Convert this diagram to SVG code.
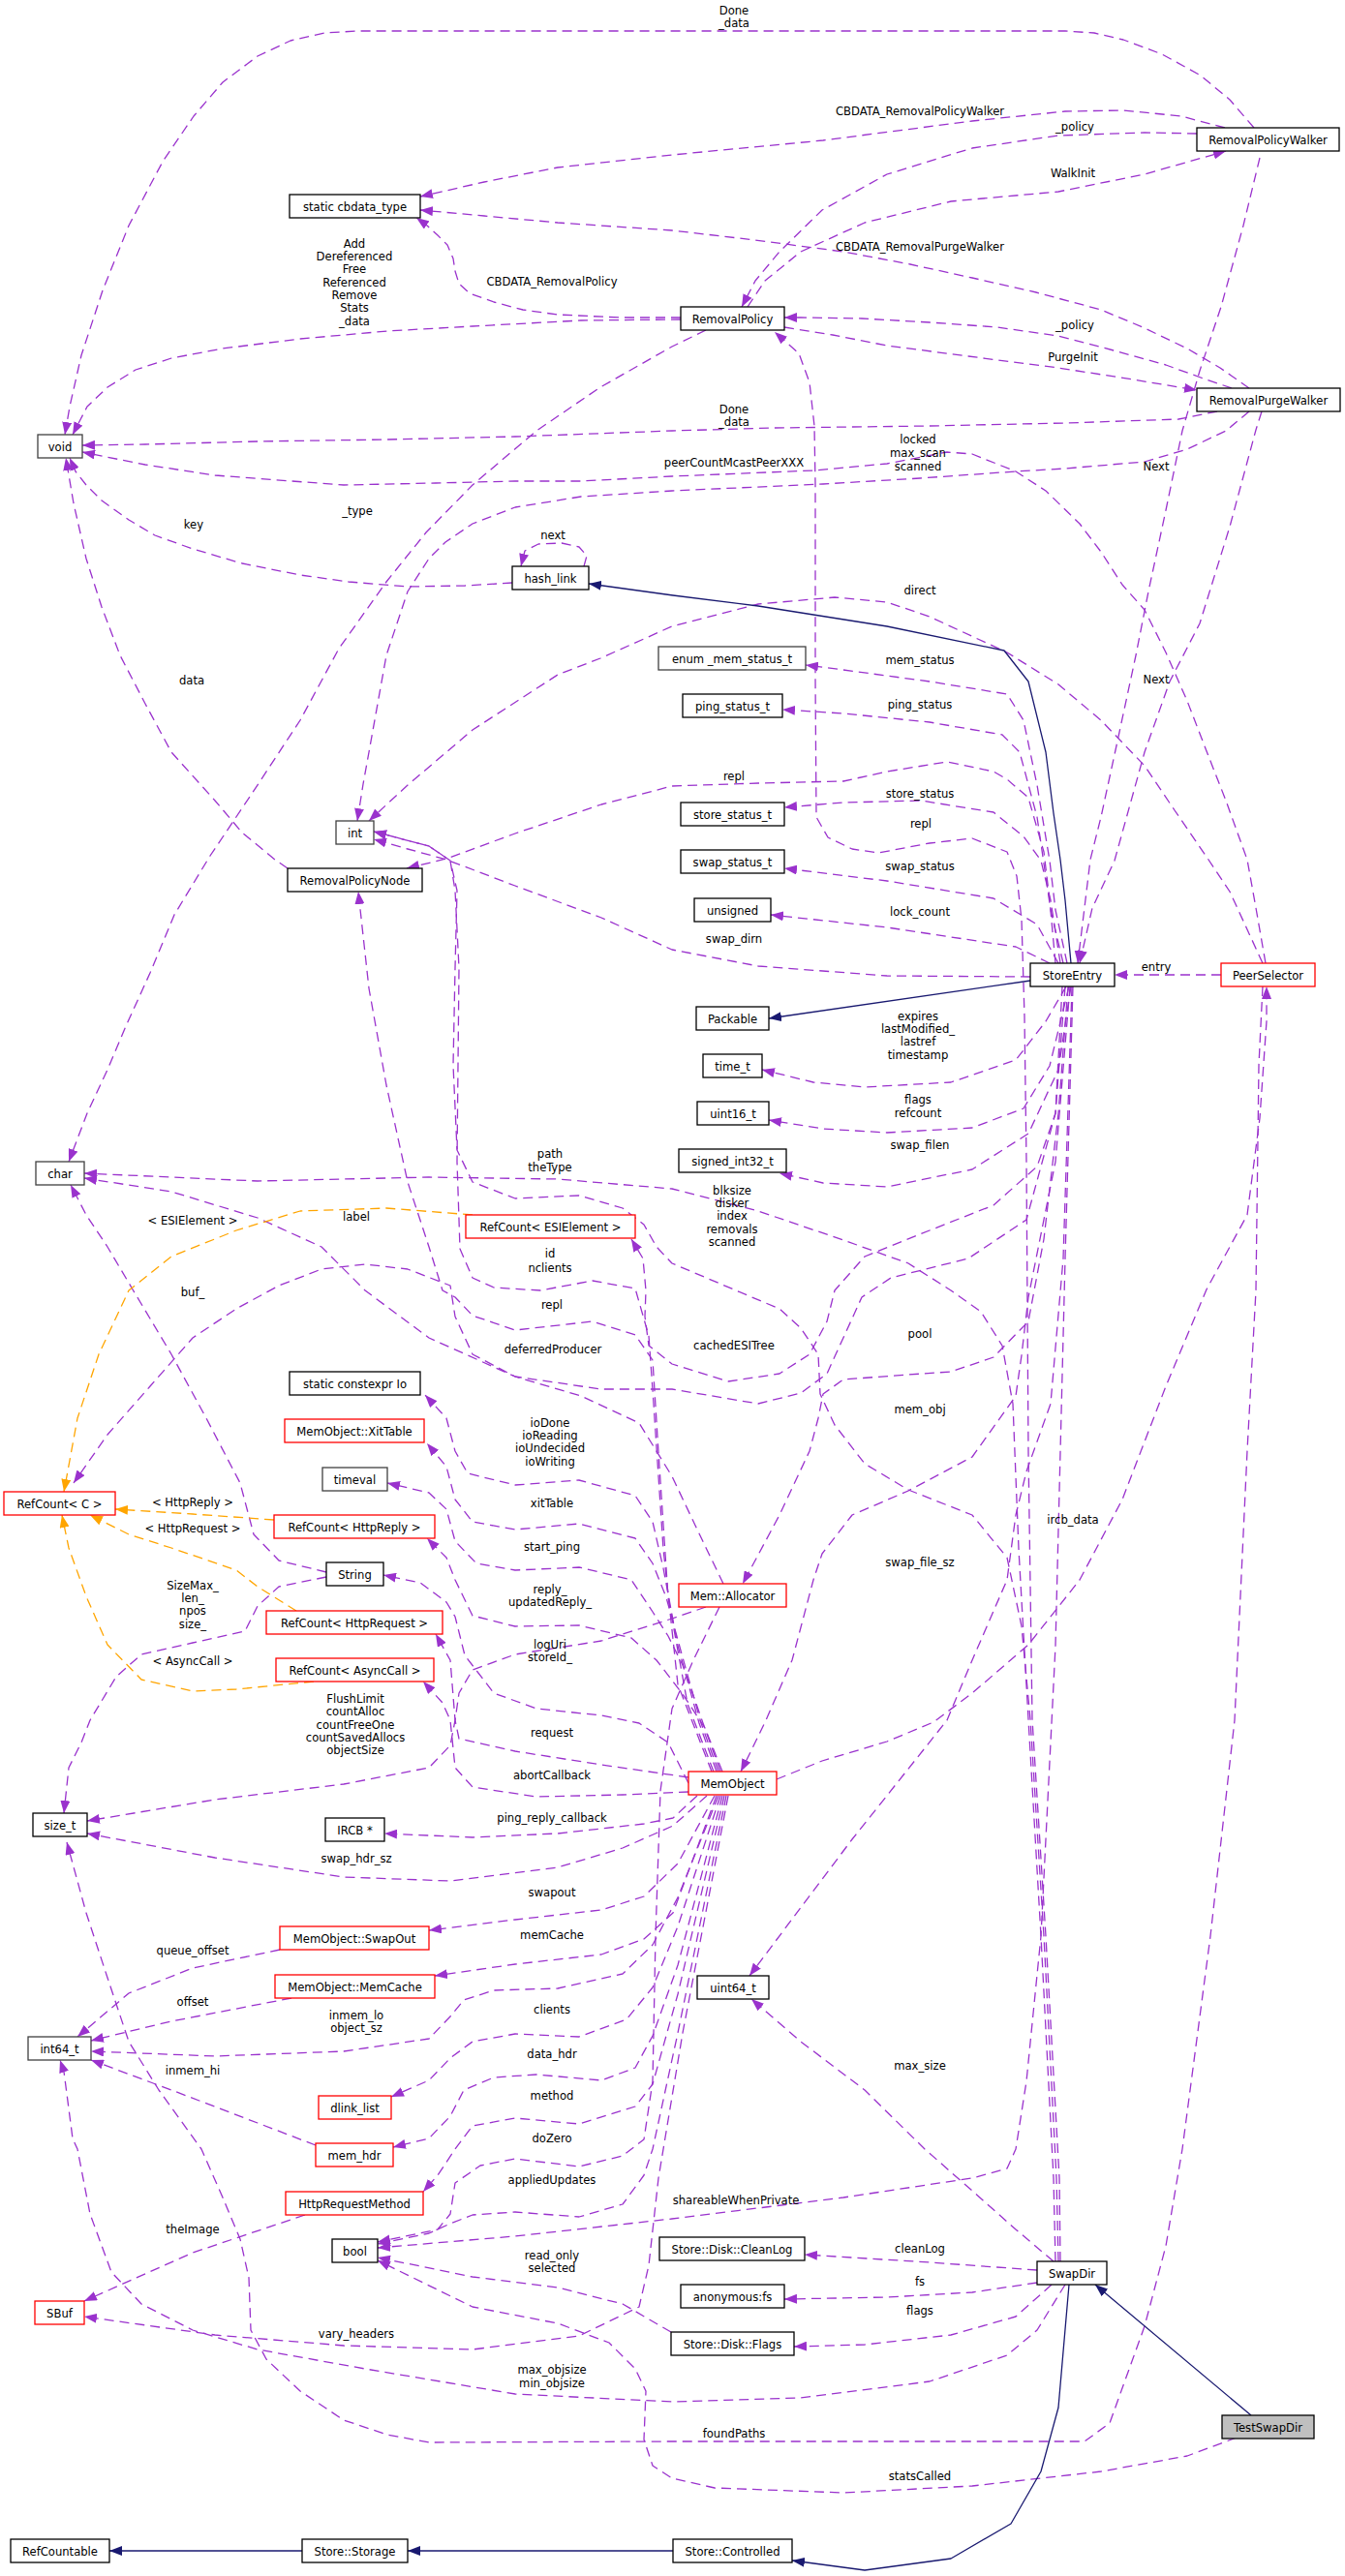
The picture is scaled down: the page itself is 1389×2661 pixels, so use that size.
<svg xmlns="http://www.w3.org/2000/svg" width="1389" height="2661" viewBox="0 0 1389 2661">
<defs>
<style>
text{font-family:'DejaVu Sans Condensed','Liberation Sans',sans-serif;font-size:12.9px;fill:#000;text-anchor:middle}
.nd rect{fill:#fff;stroke:#000;stroke-width:1.3}
.gy rect{stroke:#404040}
.rd rect{stroke:#ff0000}
.ts rect{fill:#bfbfbf}
.p{fill:none;stroke:#9a32cd;stroke-width:1.3;stroke-dasharray:10,6;stroke-linejoin:round;marker-end:url(#ap)}
.o{fill:none;stroke:#ffa500;stroke-width:1.3;stroke-dasharray:10,6;stroke-linejoin:round;marker-end:url(#ao)}
.b{fill:none;stroke:#191970;stroke-width:1.3;stroke-linejoin:round;marker-end:url(#an)}
</style>
<marker id="ap" markerUnits="userSpaceOnUse" markerWidth="13" markerHeight="10" refX="13" refY="5" orient="auto"><path d="M0,0 L13,5 L0,10 z" fill="#9a32cd"/></marker>
<marker id="ao" markerUnits="userSpaceOnUse" markerWidth="13" markerHeight="10" refX="13" refY="5" orient="auto"><path d="M0,0 L13,5 L0,10 z" fill="#ffa500"/></marker>
<marker id="an" markerUnits="userSpaceOnUse" markerWidth="13" markerHeight="10" refX="13" refY="5" orient="auto"><path d="M0,0 L13,5 L0,10 z" fill="#191970"/></marker>
</defs>
<rect width="1389" height="2661" fill="#fff"/>
<g id="edges">
<path class="p" d="M1295,132 L1270,103 L1240,78 L1200,56 L1160,41 L1130,34 L1100,32 L370,32 L335,34 L300,42 L266,58 L230,85 L200,120 L168,167 L133,233 L106,300 L84,367 L72,420 L67,449"/>
<path class="p" d="M1265,132 L1220,120 L1160,114 L1100,115 L1004,125 L850,145 L694,160 L576,173 L500,188 L434,203"/>
<path class="p" d="M1236,138 L1182,137 L1093,140 L1004,153 L916,180 L849,217 L805,260 L780,290 L766,317"/>
<path class="p" d="M772,317 L790,290 L827,260 L893,230 L982,208 L1093,198 L1182,180 L1266,156"/>
<path class="p" d="M703,330 L600,331 L488,337 L400,342 L310,350 L230,360 L177,370 L140,382 L111,400 L90,420 L75,449"/>
<path class="p" d="M703,328 L640,328 L576,325 L540,320 L510,312 L485,303 L474,293 L470,280 L468,267 L462,253 L452,243 L440,232 L430,225"/>
<path class="p" d="M729,341 L694,358 L620,400 L554,445 L488,501 L440,550 L399,601 L350,670 L310,744 L260,820 L217,884 L180,945 L155,1005 L130,1060 L111,1105 L90,1150 L71,1200"/>
<path class="p" d="M1290,401 L1260,380 L1226,360 L1180,338 L1137,320 L1070,302 L1004,287 L940,273 L871,260 L780,248 L694,238 L576,230 L500,223 L434,217"/>
<path class="p" d="M1272,401 L1240,390 L1204,377 L1150,362 L1093,347 L1030,338 L960,333 L890,329 L827,328 L810,328"/>
<path class="p" d="M810,338 L860,346 L916,357 L1000,368 L1093,380 L1170,392 L1236,403"/>
<path class="p" d="M1257,425 L1217,433 L1100,437 L960,440 L800,442 L694,445 L532,451 L400,454 L266,456 L150,459 L85,460"/>
<path class="p" d="M1307,995 L1297,938 L1288,888 L1266,827 L1248,781 L1226,724 L1204,674 L1182,630 L1159,604 L1137,570 L1115,541 L1080,507 L1049,487 L1004,469 L978,467 L916,479 L840,486 L694,492 L600,497 L532,497 L450,499 L355,501 L222,491 L150,480 L85,467"/>
<path class="p" d="M1290,425 L1266,445 L1226,464 L1182,477 L1100,484 L1049,487 L950,494 L850,500 L694,507 L600,513 L532,524 L488,541 L460,560 L443,577 L421,611 L399,677 L381,777 L375,810 L369,848"/>
<path class="p" d="M1301,163 L1284,233 L1261,317 L1239,383 L1221,445 L1204,527 L1186,611 L1173,677 L1155,761 L1137,844 L1126,888 L1113,995"/>
<path class="p" d="M1303,425 L1297,444 L1270,544 L1239,644 L1208,704 L1182,777 L1151,889 L1128,938 L1115,995"/>
<path class="p" d="M529,602 L480,605 L421,606 L360,601 L310,594 L250,582 L199,567 L160,553 L133,537 L105,517 L89,501 L78,487 L72,473"/>
<path class="p" d="M603,585 L606,574 L598,565 L580,561 L556,562 L542,569 L538,585"/>
<path class="p" d="M297,897 L284,888 L250,860 L222,827 L177,777 L150,727 L124,677 L105,627 L89,577 L76,520 L68,473"/>
<path class="p" d="M1304,995 L1270,921 L1248,888 L1213,837 L1182,791 L1137,744 L1093,707 L1040,674 L960,637 L916,622 L862,617 L783,624 L694,647 L620,680 L576,697 L488,754 L421,811 L381,848"/>
<path class="p" d="M1090,995 L1084,930 L1078,880 L1062,824 L1040,805 L1026,797 L978,787 L916,797 L871,807 L783,809 L694,812 L621,831 L532,861 L461,887 L420,897"/>
<path class="p" d="M1095,2336 L1094,2250 L1080,2000 L1066,1776 L1062,1500 L1060,1200 L1058,1050 L1055,950 L1050,905 L1040,880 L1004,866 L960,871 L907,881 L880,877 L855,865 L843,844 L842,700 L842,500 L841,440 L836,395 L825,365 L800,343"/>
<path class="p" d="M1102,995 L1090,940 L1084,889 L1071,811 L1057,744 L1040,717 L960,704 L871,692 L832,687"/>
<path class="p" d="M1098,995 L1085,940 L1071,844 L1053,777 L1035,759 L960,746 L871,737 L808,733"/>
<path class="p" d="M1095,995 L1085,930 L1075,889 L1057,864 L1026,839 L951,827 L871,829 L810,834"/>
<path class="p" d="M1093,995 L1071,955 L1026,928 L916,910 L810,897"/>
<path class="p" d="M1084,995 L1049,978 L916,958 L796,945"/>
<path class="p" d="M1064,1009 L916,1008 L783,998 L694,981 L621,948 L532,915 L461,888 L421,877 L386,867"/>
<path class="p" d="M1101,1019 L1080,1055 L1049,1095 L982,1118 L893,1123 L840,1118 L787,1105"/>
<path class="p" d="M1104,1019 L1084,1101 L1057,1145 L1004,1165 L916,1170 L850,1166 L794,1157"/>
<path class="p" d="M1106,1019 L1093,1105 L1062,1171 L1004,1208 L916,1226 L850,1222 L805,1212"/>
<path class="p" d="M1261,1007 L1151,1007"/>
<path class="p" d="M1100,1019 L1090,1150 L1071,1205 L1026,1245 L960,1271 L893,1298 L862,1333 L854,1365 L836,1399 L805,1419 L752,1427 L694,1409 L670,1390 L666,1360 L667,1333 L664,1300 L652,1280"/>
<path class="p" d="M1103,1019 L1093,1150 L1078,1280 L1062,1365 L1026,1402 L982,1417 L938,1420 L871,1425 L850,1440 L845,1465 L836,1499 L805,1565 L767,1636"/>
<path class="p" d="M1105,1019 L1090,1200 L1070,1300 L1062,1340 L1055,1400 L1049,1442 L1004,1505 L938,1540 L880,1565 L849,1605 L840,1632 L818,1715 L791,1777 L775,1810 L765,1830"/>
<path class="p" d="M1107,1019 L1098,1300 L1085,1450 L1060,1520 L1049,1565 L1040,1632 L1004,1715 L978,1777 L880,1900 L774,2041"/>
<path class="p" d="M1108,1019 L1100,1300 L1090,1700 L1075,2000 L1060,2150 L1049,2220 L1040,2240 L1004,2250 L871,2270 L694,2292 L532,2310 L390,2322"/>
<path class="p" d="M1097,1019 L1090,1150 L1060,1260 L1000,1300 L920,1320 L890,1340 L880,1362 L854,1419 L827,1439 L783,1450 L694,1435 L621,1435 L532,1422 L488,1399 L470,1360 L465,1328 L421,1311 L377,1306 L332,1311 L288,1328 L244,1352 L199,1382 L155,1432 L111,1482 L76,1532"/>
<path class="p" d="M802,1838 L849,1819 L916,1799 L964,1779 L1004,1749 L1062,1699 L1115,1632 L1159,1549 L1204,1432 L1246,1332 L1288,1255 L1301,1155 L1308,1055 L1308,1019"/>
<path class="p" d="M1304,1019 L1300,1100 L1297,1333 L1288,1499 L1275,1777 L1250,2000 L1221,2220 L1204,2320 L1182,2403 L1146,2503 L1120,2522 L694,2522 L443,2523 L400,2515 L355,2500 L310,2470 L275,2437 L259,2407 L257,2353 L248,2313 L230,2270 L208,2220 L164,2159 L133,2109 L111,2043 L89,1976 L69,1903"/>
<path class="p" d="M1088,2336 L1049,2303 L1004,2263 L955,2220 L893,2159 L827,2109 L776,2065"/>
<path class="p" d="M1090,2336 L1088,2250 L1075,2000 L1062,1776 L1052,1600 L1046,1450 L1035,1390 L1013,1355 L982,1333 L938,1305 L871,1281 L783,1251 L694,1228 L576,1218 L443,1216 L266,1220 L87,1212"/>
<path class="p" d="M1093,2336 L1091,2250 L1078,2000 L1064,1776 L1055,1680 L1040,1609 L1004,1565 L938,1539 L893,1512 L862,1472 L847,1440 L845,1399 L827,1372 L805,1352 L760,1333 L694,1305 L678,1288 L665,1265 L643,1248 L598,1235 L532,1238 L488,1221 L472,1188 L468,1100 L470,1000 L472,920 L465,889 L443,874 L386,859"/>
<path class="p" d="M1071,2345 L960,2337 L831,2329"/>
<path class="p" d="M1071,2358 L1004,2368 L916,2373 L810,2375"/>
<path class="p" d="M1086,2360 L1049,2393 L982,2412 L893,2422 L820,2424"/>
<path class="p" d="M1100,2360 L1071,2407 L1040,2433 L960,2460 L827,2477 L694,2481 L532,2473 L377,2447 L266,2427 L199,2407 L146,2380 L115,2347 L93,2287 L80,2220 L75,2209 L66,2140 L62,2128"/>
<path class="p" d="M1277,2518 L1226,2537 L1137,2553 L1004,2568 L871,2575 L738,2570 L694,2560 L674,2547 L665,2520 L667,2470 L656,2447 L629,2420 L576,2400 L488,2383 L390,2335"/>
<path class="p" d="M693,2409 L643,2380 L576,2363 L488,2352 L390,2332"/>
<path class="p" d="M315,2288 L199,2327 L87,2377"/>
<path class="p" d="M740,1830 L722,1780 L700,1700 L685,1620 L674,1572 L656,1545 L598,1529 L532,1534 L483,1522 L470,1499 L461,1465 L439,1441"/>
<path class="p" d="M742,1830 L724,1780 L703,1705 L688,1650 L674,1615 L656,1589 L598,1574 L532,1580 L488,1572 L470,1549 L461,1515 L441,1491"/>
<path class="p" d="M744,1830 L726,1780 L705,1720 L690,1690 L674,1665 L652,1632 L598,1619 L532,1622 L492,1615 L470,1592 L461,1559 L443,1542 L400,1532"/>
<path class="p" d="M746,1830 L728,1785 L705,1750 L678,1715 L652,1692 L598,1679 L532,1680 L488,1669 L470,1632 L461,1609 L441,1589"/>
<path class="p" d="M711,1842 L690,1800 L660,1780 L621,1772 L554,1765 L510,1749 L480,1710 L470,1670 L461,1655 L434,1635 L396,1627"/>
<path class="p" d="M711,1836 L621,1823 L532,1809 L474,1796 L470,1777 L465,1715 L450,1688"/>
<path class="p" d="M711,1851 L643,1854 L554,1856 L488,1846 L470,1826 L465,1777 L457,1759 L437,1737"/>
<path class="p" d="M720,1855 L695,1878 L665,1884 L576,1894 L488,1898 L397,1894"/>
<path class="p" d="M730,1855 L695,1886 L643,1909 L576,1929 L465,1943 L355,1939 L222,1919 L90,1894"/>
<path class="p" d="M738,1855 L700,1925 L665,1959 L621,1973 L532,1983 L443,1994"/>
<path class="p" d="M740,1855 L695,1976 L665,2003 L621,2019 L532,2029 L449,2041"/>
<path class="p" d="M742,1855 L700,1960 L674,2009 L643,2039 L576,2054 L510,2056 L479,2066 L465,2083 L443,2106 L355,2119 L222,2124 L94,2119"/>
<path class="p" d="M744,1855 L700,1990 L674,2053 L647,2086 L598,2104 L532,2101 L488,2109 L465,2126 L443,2149 L404,2166"/>
<path class="p" d="M746,1855 L700,2030 L674,2103 L656,2136 L621,2149 L554,2143 L510,2146 L479,2159 L465,2186 L443,2209 L406,2218"/>
<path class="p" d="M748,1855 L700,2060 L674,2153 L656,2176 L598,2194 L532,2188 L488,2196 L470,2220 L452,2247 L437,2264"/>
<path class="p" d="M750,1855 L700,2100 L674,2220 L665,2247 L643,2277 L598,2290 L532,2285 L488,2288 L465,2297 L443,2307 L390,2318"/>
<path class="p" d="M752,1855 L705,2100 L680,2250 L670,2340 L660,2383 L598,2413 L488,2427 L355,2423 L222,2412 L87,2393"/>
<path class="p" d="M735,1830 L700,1740 L685,1600 L675,1450 L670,1380 L656,1331 L612,1323 L558,1333 L510,1330 L488,1320 L475,1290 L472,1200 L474,1000 L470,920 L465,889 L443,874 L386,859"/>
<path class="p" d="M737,1830 L710,1760 L690,1650 L680,1500 L674,1405 L656,1379 L612,1365 L532,1374 L488,1359 L470,1340 L457,1333 L443,1288 L421,1221 L399,1121 L381,1021 L370,921"/>
<path class="p" d="M747,1636 L720,1580 L694,1525 L660,1470 L600,1442 L532,1422 L443,1382 L377,1333 L332,1288 L266,1258 L177,1231 L87,1217"/>
<path class="p" d="M729,1660 L694,1672 L621,1695 L532,1709 L488,1725 L474,1749 L470,1777 L465,1803 L443,1826 L355,1843 L222,1859 L90,1881"/>
<path class="p" d="M743,1660 L716,1715 L694,1765 L682,1850 L677,2000 L674,2150 L665,2210 L643,2227 L598,2238 L532,2230 L496,2237 L470,2255 L465,2287 L452,2303 L390,2316"/>
<path class="p" d="M337,1629 L288,1639 L266,1659 L253,1685 L199,1697 L146,1709 L120,1732 L93,1777 L84,1800 L71,1826 L66,1873"/>
<path class="p" d="M337,1624 L288,1612 L262,1585 L248,1532 L213,1465 L177,1399 L137,1332 L111,1288 L89,1255 L73,1224"/>
<path class="p" d="M289,2014 L199,2033 L133,2059 L80,2104"/>
<path class="p" d="M301,2064 L177,2088 L94,2108"/>
<path class="p" d="M326,2216 L266,2193 L177,2159 L94,2128"/>
<path class="o" d="M488,1255 L399,1248 L310,1251 L244,1271 L177,1298 L133,1333 L102,1399 L80,1465 L66,1541"/>
<path class="o" d="M283,1570 L199,1564 L119,1559"/>
<path class="o" d="M306,1664 L266,1639 L244,1622 L177,1599 L133,1585 L93,1565"/>
<path class="o" d="M324,1737 L244,1745 L199,1747 L146,1735 L111,1699 L89,1649 L71,1599 L64,1565"/>
<path class="b" d="M1106,995 L1100,930 L1095,888 L1088,840 L1080,777 L1062,704 L1037,672 L916,647 L783,626 L695,615 L608,603"/>
<path class="b" d="M1064,1013 L794,1052"/>
<path class="b" d="M1292,2495 L1131,2360"/>
<path class="b" d="M1104,2360 L1093,2487 L1075,2553 L1044,2607 L982,2643 L893,2655 L818,2645"/>
<path class="b" d="M695,2635 L421,2635"/>
<path class="b" d="M312,2635 L113,2635"/>
</g>
<g id="edge-labels">
<text x="758" y="15">Done</text><text x="758" y="28">_data</text>
<text x="950" y="119">CBDATA_RemovalPolicyWalker</text>
<text x="1110" y="135">_policy</text>
<text x="1108" y="183">WalkInit</text>
<text x="366" y="256">Add</text><text x="366" y="269">Dereferenced</text><text x="366" y="282">Free</text><text x="366" y="296">Referenced</text><text x="366" y="309">Remove</text><text x="366" y="322">Stats</text><text x="366" y="336">_data</text>
<text x="570" y="295">CBDATA_RemovalPolicy</text>
<text x="950" y="259">CBDATA_RemovalPurgeWalker</text>
<text x="1110" y="340">_policy</text>
<text x="1108" y="373">PurgeInit</text>
<text x="758" y="427">Done</text><text x="758" y="440">_data</text>
<text x="369" y="532">_type</text>
<text x="200" y="546">key</text>
<text x="571" y="557">next</text>
<text x="948" y="458">locked</text><text x="948" y="472">max_scan</text><text x="948" y="486">scanned</text>
<text x="758" y="482">peerCountMcastPeerXXX</text>
<text x="1194" y="486">Next</text>
<text x="950" y="614">direct</text>
<text x="1194" y="706">Next</text>
<text x="950" y="686">mem_status</text>
<text x="950" y="732">ping_status</text>
<text x="198" y="707">data</text>
<text x="758" y="806">repl</text>
<text x="950" y="824">store_status</text>
<text x="951" y="855">repl</text>
<text x="950" y="899">swap_status</text>
<text x="950" y="946">lock_count</text>
<text x="758" y="974">swap_dirn</text>
<text x="1194" y="1003">entry</text>
<text x="948" y="1054">expires</text><text x="948" y="1067">lastModified_</text><text x="948" y="1080">lastref</text><text x="948" y="1094">timestamp</text>
<text x="948" y="1140">flags</text><text x="948" y="1154">refcount</text>
<text x="950" y="1187">swap_filen</text>
<text x="568" y="1196">path</text><text x="568" y="1210">theType</text>
<text x="756" y="1234">blksize</text><text x="756" y="1247">disker</text><text x="756" y="1260">index</text><text x="756" y="1274">removals</text><text x="756" y="1287">scanned</text>
<text x="368" y="1261">label</text>
<text x="199" y="1265">&lt; ESIElement &gt;</text>
<text x="568" y="1299">id</text><text x="568" y="1314">nclients</text>
<text x="199" y="1339">buf_</text>
<text x="570" y="1352">repl</text>
<text x="950" y="1382">pool</text>
<text x="758" y="1394">cachedESITree</text>
<text x="571" y="1398">deferredProducer</text>
<text x="950" y="1460">mem_obj</text>
<text x="568" y="1474">ioDone</text><text x="568" y="1487">ioReading</text><text x="568" y="1500">ioUndecided</text><text x="568" y="1514">ioWriting</text>
<text x="199" y="1556">&lt; HttpReply &gt;</text>
<text x="570" y="1557">xitTable</text>
<text x="1108" y="1574">ircb_data</text>
<text x="199" y="1583">&lt; HttpRequest &gt;</text>
<text x="570" y="1602">start_ping</text>
<text x="950" y="1618">swap_file_sz</text>
<text x="199" y="1642">SizeMax_</text><text x="199" y="1655">len_</text><text x="199" y="1668">npos</text><text x="199" y="1682">size_</text>
<text x="568" y="1646">reply_</text><text x="568" y="1659">updatedReply_</text>
<text x="568" y="1703">logUri</text><text x="568" y="1716">storeId_</text>
<text x="199" y="1720">&lt; AsyncCall &gt;</text>
<text x="367" y="1759">FlushLimit</text><text x="367" y="1772">countAlloc</text><text x="367" y="1786">countFreeOne</text><text x="367" y="1799">countSavedAllocs</text><text x="367" y="1812">objectSize</text>
<text x="570" y="1794">request</text>
<text x="570" y="1838">abortCallback</text>
<text x="570" y="1882">ping_reply_callback</text>
<text x="368" y="1924">swap_hdr_sz</text>
<text x="570" y="1959">swapout</text>
<text x="570" y="2003">memCache</text>
<text x="199" y="2019">queue_offset</text>
<text x="199" y="2072">offset</text>
<text x="570" y="2080">clients</text>
<text x="368" y="2086">inmem_lo</text><text x="368" y="2099">object_sz</text>
<text x="570" y="2126">data_hdr</text>
<text x="950" y="2138">max_size</text>
<text x="199" y="2143">inmem_hi</text>
<text x="570" y="2169">method</text>
<text x="570" y="2213">doZero</text>
<text x="570" y="2256">appliedUpdates</text>
<text x="760" y="2277">shareableWhenPrivate</text>
<text x="199" y="2307">theImage</text>
<text x="950" y="2327">cleanLog</text>
<text x="570" y="2334">read_only</text><text x="570" y="2347">selected</text>
<text x="950" y="2361">fs</text>
<text x="950" y="2391">flags</text>
<text x="368" y="2415">vary_headers</text>
<text x="570" y="2452">max_objsize</text><text x="570" y="2466">min_objsize</text>
<text x="758" y="2518">foundPaths</text>
<text x="950" y="2562">statsCalled</text>
</g>
<g id="node-void" class="nd gy"><rect x="39" y="449" width="46" height="24"/><text x="62" y="465.5">void</text></g>
<g id="node-char" class="nd gy"><rect x="37" y="1200" width="50" height="24"/><text x="62" y="1216.5">char</text></g>
<g id="node-refcount-c" class="nd rd"><rect x="4" y="1541" width="115" height="24"/><text x="61.5" y="1557.5">RefCount&lt; C &gt;</text></g>
<g id="node-size_t" class="nd"><rect x="34" y="1873" width="56" height="24"/><text x="62" y="1889.5">size_t</text></g>
<g id="node-int64_t" class="nd gy"><rect x="29" y="2104" width="65" height="24"/><text x="61.5" y="2120.5">int64_t</text></g>
<g id="node-sbuf" class="nd rd"><rect x="36" y="2377" width="51" height="24"/><text x="61.5" y="2393.5">SBuf</text></g>
<g id="node-refcountable" class="nd"><rect x="11" y="2623" width="102" height="24"/><text x="62" y="2639.5">RefCountable</text></g>
<g id="node-cbdata" class="nd"><rect x="299" y="201" width="135" height="24"/><text x="366.5" y="217.5">static cbdata_type</text></g>
<g id="node-int" class="nd gy"><rect x="347" y="848" width="39" height="24"/><text x="366.5" y="864.5">int</text></g>
<g id="node-removalpolicynode" class="nd"><rect x="297" y="897" width="139" height="24"/><text x="366.5" y="913.5">RemovalPolicyNode</text></g>
<g id="node-io" class="nd"><rect x="299" y="1417" width="135" height="24"/><text x="366.5" y="1433.5">static constexpr Io</text></g>
<g id="node-xittable" class="nd rd"><rect x="294" y="1466" width="144" height="24"/><text x="366" y="1482.5">MemObject::XitTable</text></g>
<g id="node-timeval" class="nd gy"><rect x="333" y="1516" width="67" height="24"/><text x="366.5" y="1532.5">timeval</text></g>
<g id="node-refcount-httpreply" class="nd rd"><rect x="283" y="1565" width="166" height="24"/><text x="366" y="1581.5">RefCount&lt; HttpReply &gt;</text></g>
<g id="node-string" class="nd"><rect x="337" y="1614" width="59" height="24"/><text x="366.5" y="1630.5">String</text></g>
<g id="node-refcount-httprequest" class="nd rd"><rect x="275" y="1664" width="182" height="24"/><text x="366" y="1680.5">RefCount&lt; HttpRequest &gt;</text></g>
<g id="node-refcount-asynccall" class="nd rd"><rect x="285" y="1713" width="163" height="24"/><text x="366.5" y="1729.5">RefCount&lt; AsyncCall &gt;</text></g>
<g id="node-ircb" class="nd"><rect x="336" y="1878" width="61" height="24"/><text x="366.5" y="1894.5">IRCB *</text></g>
<g id="node-swapout" class="nd rd"><rect x="289" y="1990" width="154" height="24"/><text x="366" y="2006.5">MemObject::SwapOut</text></g>
<g id="node-memcache" class="nd rd"><rect x="284" y="2040" width="165" height="24"/><text x="366.5" y="2056.5">MemObject::MemCache</text></g>
<g id="node-dlink_list" class="nd rd"><rect x="329" y="2165" width="75" height="24"/><text x="366.5" y="2181.5">dlink_list</text></g>
<g id="node-mem_hdr" class="nd rd"><rect x="326" y="2214" width="80" height="24"/><text x="366" y="2230.5">mem_hdr</text></g>
<g id="node-httprequestmethod" class="nd rd"><rect x="295" y="2264" width="142" height="24"/><text x="366" y="2280.5">HttpRequestMethod</text></g>
<g id="node-bool" class="nd"><rect x="343" y="2313" width="47" height="24"/><text x="366.5" y="2329.5">bool</text></g>
<g id="node-storage" class="nd"><rect x="312" y="2623" width="109" height="24"/><text x="366.5" y="2639.5">Store::Storage</text></g>
<g id="node-hash_link" class="nd"><rect x="529" y="585" width="79" height="24"/><text x="568.5" y="601.5">hash_link</text></g>
<g id="node-refcount-esielement" class="nd rd"><rect x="481" y="1255" width="175" height="24"/><text x="568.5" y="1271.5">RefCount&lt; ESIElement &gt;</text></g>
<g id="node-removalpolicy" class="nd"><rect x="703" y="317" width="107" height="24"/><text x="756.5" y="333.5">RemovalPolicy</text></g>
<g id="node-mem_status" class="nd gy"><rect x="680" y="668" width="152" height="24"/><text x="756" y="684.5">enum _mem_status_t</text></g>
<g id="node-ping_status" class="nd"><rect x="705" y="717" width="103" height="24"/><text x="756.5" y="733.5">ping_status_t</text></g>
<g id="node-store_status" class="nd"><rect x="703" y="829" width="107" height="24"/><text x="756.5" y="845.5">store_status_t</text></g>
<g id="node-swap_status" class="nd"><rect x="703" y="878" width="107" height="24"/><text x="756.5" y="894.5">swap_status_t</text></g>
<g id="node-unsigned" class="nd"><rect x="717" y="928" width="79" height="24"/><text x="756.5" y="944.5">unsigned</text></g>
<g id="node-packable" class="nd"><rect x="719" y="1040" width="75" height="24"/><text x="756.5" y="1056.5">Packable</text></g>
<g id="node-time_t" class="nd"><rect x="726" y="1089" width="61" height="24"/><text x="756.5" y="1105.5">time_t</text></g>
<g id="node-uint16_t" class="nd"><rect x="720" y="1138" width="74" height="24"/><text x="757" y="1154.5">uint16_t</text></g>
<g id="node-signed_int32_t" class="nd"><rect x="701" y="1187" width="111" height="24"/><text x="756.5" y="1203.5">signed_int32_t</text></g>
<g id="node-allocator" class="nd rd"><rect x="701" y="1636" width="111" height="24"/><text x="756.5" y="1652.5">Mem::Allocator</text></g>
<g id="node-memobject" class="nd rd"><rect x="711" y="1830" width="91" height="24"/><text x="756.5" y="1846.5">MemObject</text></g>
<g id="node-uint64_t" class="nd"><rect x="720" y="2041" width="74" height="24"/><text x="757" y="2057.5">uint64_t</text></g>
<g id="node-cleanlog" class="nd"><rect x="681" y="2311" width="150" height="24"/><text x="756" y="2327.5">Store::Disk::CleanLog</text></g>
<g id="node-anonfs" class="nd"><rect x="703" y="2360" width="107" height="24"/><text x="756.5" y="2376.5">anonymous:fs</text></g>
<g id="node-flags" class="nd"><rect x="693" y="2409" width="127" height="24"/><text x="756.5" y="2425.5">Store::Disk::Flags</text></g>
<g id="node-controlled" class="nd"><rect x="695" y="2623" width="123" height="24"/><text x="756.5" y="2639.5">Store::Controlled</text></g>
<g id="node-storeentry" class="nd"><rect x="1064" y="995" width="87" height="24"/><text x="1107.5" y="1011.5">StoreEntry</text></g>
<g id="node-swapdir" class="nd"><rect x="1071" y="2336" width="72" height="24"/><text x="1107" y="2352.5">SwapDir</text></g>
<g id="node-rpw" class="nd"><rect x="1236" y="132" width="147" height="24"/><text x="1309.5" y="148.5">RemovalPolicyWalker</text></g>
<g id="node-rpurgew" class="nd"><rect x="1236" y="401" width="148" height="24"/><text x="1310" y="417.5">RemovalPurgeWalker</text></g>
<g id="node-peerselector" class="nd rd"><rect x="1261" y="995" width="97" height="24"/><text x="1309.5" y="1011.5">PeerSelector</text></g>
<g id="node-testswapdir" class="nd ts"><rect x="1262" y="2495" width="95" height="24"/><text x="1309.5" y="2511.5">TestSwapDir</text></g>
</svg>
